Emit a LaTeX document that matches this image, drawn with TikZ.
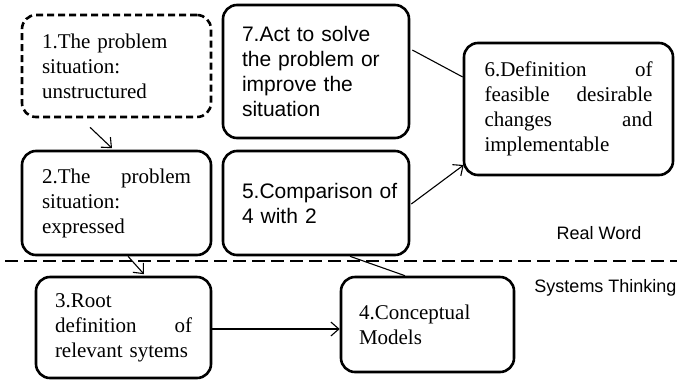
\documentclass[tikz,border=0pt]{standalone}
\usepackage{fontspec}
\setmainfont{Liberation Serif}
\newfontfamily\arialfont{Liberation Sans}
\usetikzlibrary{arrows.meta,calc}

\begin{document}
\begin{tikzpicture}[x=1pt,y=-1pt,
  box/.style={draw, line width=2.6pt, rounded corners=14pt, inner sep=0pt,
              align=left, font=\fontsize{21}{25}\selectfont},
  sansbox/.style={box, font=\arialfont\fontsize{21}{25}\selectfont},
  dashbox/.style={box, dash pattern=on 7pt off 4pt},
  link/.style={line width=1.1pt},
  arrowlink/.style={link, -{Straight Barb[length=8pt,width=14pt]}},
  separator/.style={line width=1.1pt, dash pattern=on 13pt off 6pt},
  zone/.style={font=\arialfont\fontsize{18}{22}\selectfont, inner sep=0pt}
]
\useasboundingbox (0,0) rectangle (679,381);

% process boxes
\node[dashbox, minimum width=189pt, minimum height=102pt, text width=149pt] (b1) at (116.5,66)
  {1.The problem\\situation:\\unstructured};
\node[box, minimum width=189pt, minimum height=104pt, text width=149pt] (b2) at (116.5,203)
  {2.The\hfill problem\\situation:\\expressed};
\node[box, minimum width=175pt, minimum height=101pt, text width=137pt] (b3) at (123.5,327.5)
  {3.Root\\definition\hfill of\\relevant sytems};
\node[box, minimum width=173pt, minimum height=95pt, text width=137pt] (b4) at (427.5,324.5)
  {4.Conceptual\\Models};
\node[sansbox, minimum width=186pt, minimum height=104pt, text width=148pt] (b5) at (316,203)
  {5.Comparison~of\\4 with 2};
\node[box, minimum width=209pt, minimum height=132pt, text width=168pt] (b6) at (568.5,109)
  {6.Definition\hfill of\\feasible\hfill desirable\\changes\hfill and\\implementable};
\node[sansbox, minimum width=186pt, minimum height=133pt, text width=148pt] (b7) at (316,71.5)
  {7.Act to solve\\the problem or\\improve the\\situation};

% boundary between the two worlds
\coordinate (sepL) at (5,261);
\coordinate (sepR) at (677,261);
\draw[separator] (sepL) -- (sepR);
\node[zone] (real) at (599,233) {Real Word};
\node[zone] (sys) at (605.5,288) {Systems Thinking};

% connectors
\draw[arrowlink] ($(b1.south)+(-26.5,9)$) -- ($(b2.north)+(-4.5,-1.5)$);
\draw[arrowlink] ($(b2.south)+(11.5,0)$) -- ($(b3.north)+(20.5,-1.5)$);
\draw[arrowlink] ($(b3.east)+(0,1.5)$) coordinate (a3) -- (a3 -| b4.west);
\draw[link] ($(b5.south)+(34,0)$) -- ($(b4.north)+(-22.5,0)$);
\draw[arrowlink] ($(b5.east)+(1,1)$) -- ($(b6.west)+(1,56)$);
\draw[link] ($(b7.east)+(2,-21.5)$) -- ($(b6.west)+(0,-32)$);
\end{tikzpicture}
\end{document}
